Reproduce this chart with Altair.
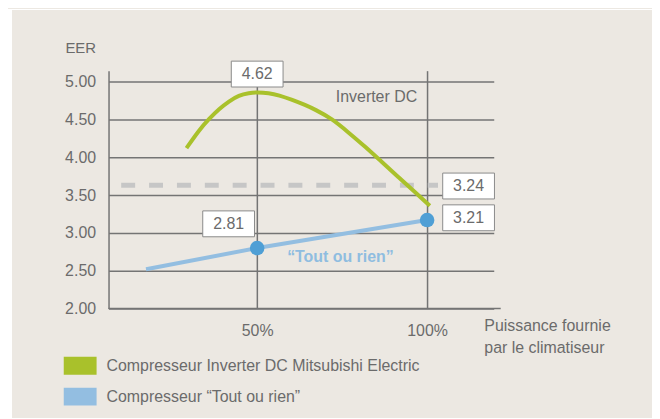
import altair as alt
import pandas as pd

# ---- data ----
green_x = [29.2, 32.9, 35.9, 38.8, 41.7, 44.6, 47.6, 50.0, 53.4, 56.4, 60.3,
           64.2, 67.1, 72.0, 76.8, 81.8, 86.6, 91.5, 96.4, 100.8]
green_y = [4.12, 4.36, 4.51, 4.64, 4.74, 4.82, 4.85, 4.86, 4.85, 4.82, 4.76,
           4.69, 4.63, 4.51, 4.33, 4.14, 3.94, 3.74, 3.54, 3.36]
blue_x = [17.3, 50.0, 100.0]
blue_y = [2.52, 2.80, 3.17]
dot_x = [50.0, 100.0]
dot_y = [2.80, 3.17]
dash_x = [10.0]
dash_x2 = [103.2]
dash_y = [3.63]
box_text = ["4.62", "2.81", "3.24", "3.21"]
box_x = [50.0, 41.6, 112.2, 112.2]
box_y = [5.10, 3.12, 3.62, 3.20]
note1_text = ["Inverter DC"]
note1_x = [85.1]
note1_y = [4.79]
note2_text = ["\u201cTout ou rien\u201d"]
note2_x = [74.5]
note2_y = [2.68]
series_names = ["Compresseur Inverter DC Mitsubishi Electric",
                "Compresseur \u201cTout ou rien\u201d"]
series_colors = ["#a9c12b", "#93bee1"]
x_ticks = [50, 100]
y_ticks = [2.0, 2.5, 3.0, 3.5, 4.0, 4.5, 5.0]
x_title = ["Puissance fournie", "par le climatiseur"]
y_title = "EER"

# ---- styling ----
FONT = "Liberation Sans, Arial, sans-serif"
FS = 16
TXT = "#6b6b6b"
GRID = "#747474"
BG = "#ece8e2"
DOT = "#4f9fd5"
W, H = 387, 239
SWATCH = "M-1,-0.545H1V0.545H-1Z"   # 33 x 18 block at symbolSize 1089

xs = alt.Scale(domain=[6.27, 119.6], nice=False, zero=False)
ys = alt.Scale(domain=[2.0, 5.145], nice=False, zero=False)

green_df = pd.DataFrame({"x": green_x, "y": green_y})
blue_df = pd.DataFrame({"x": blue_x, "y": blue_y})
legend_df = pd.DataFrame({"series": series_names})
dots_df = pd.DataFrame({"x": dot_x, "y": dot_y})
dash_df = pd.DataFrame({"x": dash_x, "x2": dash_x2, "y": dash_y})
box_df = pd.DataFrame({"x": box_x, "y": box_y, "t": box_text})
note1_df = pd.DataFrame({"x": note1_x, "y": note1_y, "t": note1_text})
note2_df = pd.DataFrame({"x": note2_x, "y": note2_y, "t": note2_text})

x_axis = alt.Axis(values=x_ticks, labelExpr="datum.value + '%'", domain=False,
                  ticks=False, grid=True, gridColor=GRID, gridWidth=1.5,
                  labelFont=FONT, labelFontSize=FS, labelColor=TXT,
                  labelPadding=14, labelFlush=False,
                  title=x_title, titleFont=FONT, titleFontSize=FS,
                  titleFontWeight="normal", titleColor=TXT, titleAlign="left",
                  titleAnchor="start", titleX=377, titleY=22,
                  titleBaseline="alphabetic", titleLineHeight=22)
y_axis = alt.Axis(values=y_ticks, format=".2f", domain=True, domainColor=GRID,
                  domainWidth=1.5, ticks=False, grid=True, gridColor=GRID,
                  gridWidth=1.5, labelFont=FONT, labelFontSize=FS,
                  labelColor=TXT, labelPadding=13, labelFlush=False,
                  title=y_title, titleFont=FONT, titleFontSize=15,
                  titleFontWeight="normal", titleColor=TXT, titleAngle=0,
                  titleAlign="right", titleBaseline="middle", titleX=-13,
                  titleY=-23)

X = alt.X("x:Q", scale=xs, axis=x_axis)
Y = alt.Y("y:Q", scale=ys, axis=y_axis)

strip_left = alt.Chart(pd.DataFrame({"a": [0]})).mark_rect(color="white").encode(
    x=alt.value(-101), x2=alt.value(-97), y=alt.value(-62), y2=alt.value(350))
strip_top = alt.Chart(pd.DataFrame({"a": [0]})).mark_rect(color="white").encode(
    x=alt.value(-101), x2=alt.value(560), y=alt.value(-62), y2=alt.value(-61))

baseline = alt.Chart(pd.DataFrame({"y": [2.0]})).mark_rule(
    color=GRID, strokeWidth=1.5).encode(
    y=Y, x=alt.value(0), x2=alt.value(394))

dash = alt.Chart(dash_df).mark_rule(color="#c6c6c6", strokeWidth=5,
                                    strokeDash=[14, 14]).encode(
    x=X, x2="x2:Q", y=Y)

green_line = alt.Chart(green_df).mark_line(
    strokeWidth=4, interpolate="basis", color=series_colors[0]).encode(x=X, y=Y)
blue_line = alt.Chart(blue_df).mark_line(
    strokeWidth=4, color=series_colors[1]).encode(x=X, y=Y)

# zero-size marks that only carry the colour legend
legend_layer = alt.Chart(legend_df).mark_rect(strokeWidth=0).encode(
    x=alt.value(0), x2=alt.value(0), y=alt.value(0), y2=alt.value(0),
    fill=alt.Fill("series:N",
                  scale=alt.Scale(domain=series_names, range=series_colors),
                  legend=alt.Legend(title=None, orient="none", legendX=-45,
                                    legendY=280, symbolType=SWATCH,
                                    symbolSize=1089, symbolStrokeWidth=0,
                                    symbolOpacity=1,
                                    labelFont=FONT, labelFontSize=FS,
                                    labelColor=TXT, labelOffset=10,
                                    labelLimit=600, rowPadding=5,
                                    padding=0)),
)

dots = alt.Chart(dots_df).mark_circle(size=215, color=DOT, opacity=1).encode(
    x=X, y=Y)

boxes = alt.Chart(box_df).mark_rect(width=52, height=26, fill="white",
                                    stroke="#8a8a8a", strokeWidth=1).encode(
    x=X, y=Y)

box_labels = alt.Chart(box_df).mark_text(font=FONT, fontSize=FS, color=TXT,
                                         baseline="middle").encode(
    x=X, y=Y, text="t:N")

note1 = alt.Chart(note1_df).mark_text(font=FONT, fontSize=FS, color=TXT,
                                      baseline="middle").encode(
    x=X, y=Y, text="t:N")

note2 = alt.Chart(note2_df).mark_text(font=FONT, fontSize=FS, color="#8fbde0",
                                      fontWeight="bold", baseline="middle").encode(
    x=X, y=Y, text="t:N")

chart = alt.layer(strip_left, strip_top, baseline, dash, green_line, blue_line,
                  legend_layer, dots, boxes, box_labels, note1, note2).properties(
    width=W, height=H, background=BG,
    autosize=alt.AutoSizeParams(type="none"),
    padding={"left": 101, "top": 62, "right": 159, "bottom": 109},
).configure_view(stroke=None)

chart.save("out.html", embed_options={"renderer": "svg", "actions": False})
